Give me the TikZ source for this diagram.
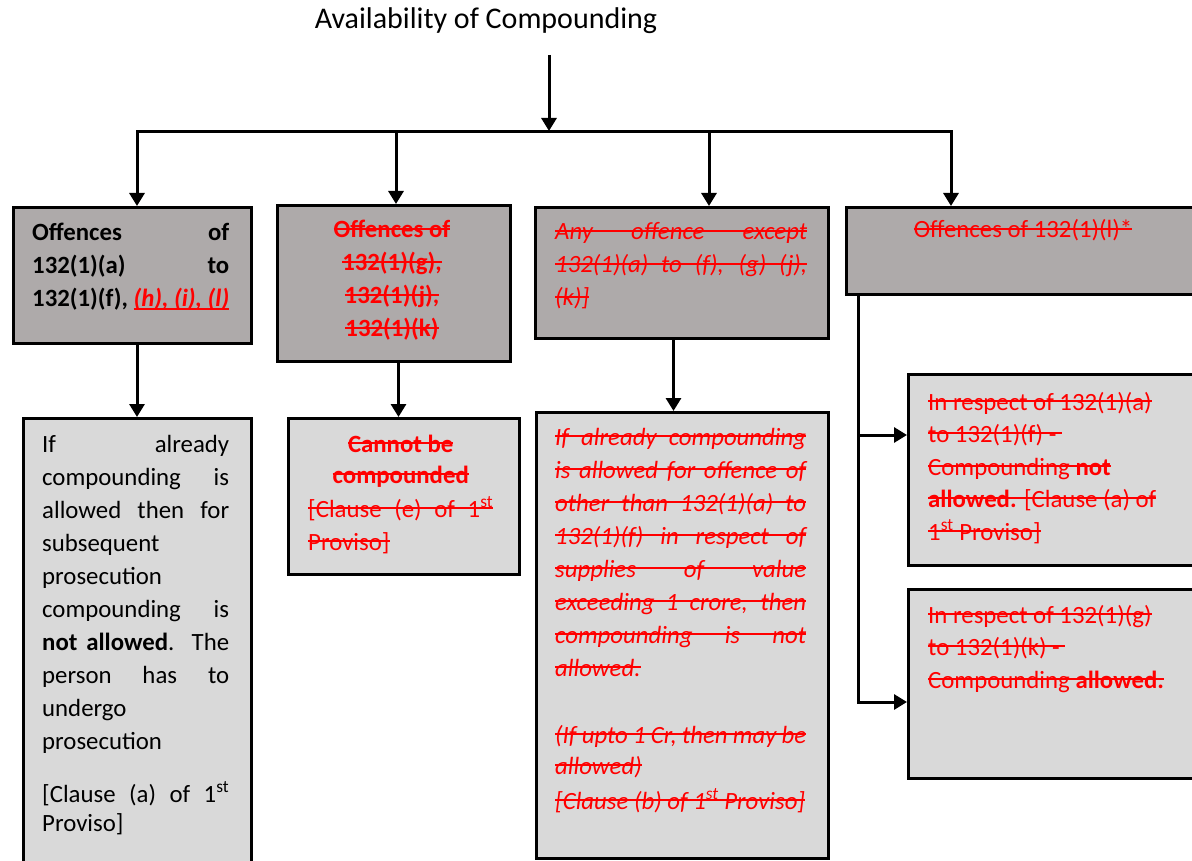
\documentclass[tikz,border=0pt]{standalone}
\usepackage{fontspec}
\setmainfont{Carlito}
\usetikzlibrary{arrows.meta}
\definecolor{darkbox}{HTML}{AEAAAA}
\definecolor{lightbox}{HTML}{D9D9D9}
\definecolor{strk}{HTML}{FF0000}
\newcommand\Rs{\spaceskip=0pt\xspaceskip=0pt\relax}
\newcommand\Sline[1]{\leavevmode\setbox0\hbox{\Rs#1}\rlap{\rule[0.34em]{\wd0}{1.6pt}}\box0}
\newcommand\Sjust[1]{\leavevmode\rlap{\rule[0.34em]{\linewidth}{1.6pt}}\makebox[\linewidth][s]{\Rs#1}}
\newcommand\Jl[1]{\leavevmode\makebox[\linewidth][s]{\Rs#1}}
\newcommand\Uline[1]{\leavevmode\setbox0\hbox{\Rs#1}\rlap{\rule[-3pt]{\wd0}{1.5pt}}\box0}
\begin{document}
\begin{tikzpicture}[x=1pt,y=-1pt,
  box/.style={draw=black, line width=3pt, inner sep=0pt, anchor=north west},
  dark/.style={box, fill=darkbox},
  light/.style={box, fill=lightbox},
  conn/.style={line width=3pt, -{Triangle[width=15pt,length=13pt]}},
  plain/.style={line width=3pt},
  txt/.style={anchor=base west, inner sep=0pt, align=left, font=\fontsize{24.8}{33}\selectfont},
]
\useasboundingbox (0,0) rectangle (1192,861);

% boxes
\node[dark, minimum width=238pt, minimum height=136pt] (b1) at (12,206) {};
\node[dark, minimum width=233pt, minimum height=156pt] (b2) at (276,204) {};
\node[dark, minimum width=293pt, minimum height=131pt] (b3) at (534,206) {};
\node[dark, minimum width=360pt, minimum height=87pt] (b4) at (845,206) {};
\node[light, minimum width=228pt, minimum height=470pt] (b5) at (22,417) {};
\node[light, minimum width=231pt, minimum height=156pt] (b6) at (287,417) {};
\node[light, minimum width=292pt, minimum height=446pt] (b7) at (535,411) {};
\node[light, minimum width=300pt, minimum height=191pt] (b8) at (907,373) {};
\node[light, minimum width=300pt, minimum height=189pt] (b9) at (907,588) {};

% title and top connectors
\node[font=\fontsize{30}{36}\selectfont, anchor=base, inner sep=0pt] (t) at (486,29) {Availability of Compounding};
\coordinate (a0) at (549,55);
\coordinate (hub) at (549,131);
\coordinate (hl) at (137,132);
\coordinate (hr) at (951,132);
\coordinate (d2) at (396,132);
\coordinate (d3) at (709,132);
\draw[conn] (a0) -- (hub);
\draw[plain, line cap=rect] (hl) -- (hr);
\draw[conn] (hl) -- (hl |- b1.north);
\draw[conn] (d2) -- (d2 |- b2.north);
\draw[conn] (d3) -- (d3 |- b3.north);
\draw[conn] (hr) -- (hr |- b4.north);

% lower connectors
\draw[conn] (hl |- b1.south) -- (hl |- b5.north);
\draw[conn] ([xshift=4.5pt]b2.south) -- ([xshift=-5.5pt]b6.north);
\draw[conn] ([xshift=-8.5pt]b3.south) -- ([xshift=-9pt]b7.north);
\coordinate (v1) at (858,435);
\coordinate (v2) at (858,702);
\draw[conn, line join=miter] (v1 |- b4.south) -- (v2) -- (v2 -| b9.west);
\draw[conn] (v1) -- (v1 -| b8.west);

% texts
\node[txt, text width=197pt] (t1) at (32,241) {\Rs\bfseries\Jl{Offences of}\\ \Jl{132(1)(a) to}\\ 132(1)(f), {\color{strk}\itshape\Uline{(h), (i), (l)}}};

\node[txt, text width=233pt, anchor=base, align=center] (t2) at (392,238) {\Rs\bfseries\color{strk}\Sline{Offences of}\\ \Sline{132(1)(g),}\\ \Sline{132(1)(j),}\\ \Sline{132(1)(k)}};

\node[txt, text width=252pt] (t3) at (555,240) {\Rs\itshape\color{strk}\Sjust{Any offence except}\\ \Sjust{132(1)(a) to (f), (g) (j),}\\ \Sline{(k)]}};

\node[txt, anchor=base] (t4) at (1023,238) {\Rs\color{strk}\Sline{Offences of 132(1)(l)*}};

\node[txt, text width=187pt] (t5) at (42,452) {\Rs\Jl{If already}\\ \Jl{compounding is}\\ \Jl{allowed then for}\\ subsequent\\ prosecution\\ \Jl{compounding is}\\ \Jl{\textbf{not allowed}. The}\\ \Jl{person has to}\\ undergo\\ prosecution\\[20pt] \Jl{[Clause (a) of 1\textsuperscript{st}}\\[-4pt] Proviso]};

\node[txt, text width=185pt] (t6) at (308,452) {\Rs\color{strk}\makebox[\linewidth]{\bfseries\Sline{Cannot be}}\\[-2pt] \makebox[\linewidth]{\bfseries\Sline{compounded}}\\[1pt] \Sjust{[Clause (e) of 1\textsuperscript{st}}\\ \Sline{Proviso]}};

\node[txt, text width=251pt] (t7) at (555,445) {\Rs\itshape\color{strk}\Sjust{If already compounding}\\ \Sjust{is allowed for offence of}\\ \Sjust{other than 132(1)(a) to}\\ \Sjust{132(1)(f) in respect of}\\ \Sjust{supplies of value}\\ \Sjust{exceeding 1 crore, then}\\ \Sjust{compounding is not}\\ \Sline{allowed.}\\[34pt] \Sjust{(If upto 1 Cr, then may be}\\[-2pt] \Sline{allowed)}\\[2pt] \Sline{[Clause (b) of 1\textsuperscript{st} Proviso]}};

\node[txt, text width=260pt] (t8) at (928,410) {\Rs\color{strk}\Sline{In respect of 132(1)(a)}\\[-0.5pt] \Sline{to 132(1)(f) - }\\[-0.5pt] \Sline{Compounding \textbf{not}}\\[-0.5pt] \Sline{\textbf{allowed.} [Clause (a) of}\\[-0.5pt] \Sline{1\textsuperscript{st} Proviso]}};

\node[txt, text width=260pt] (t9) at (928,623) {\Rs\color{strk}\Sline{In respect of 132(1)(g)}\\[-0.5pt] \Sline{to 132(1)(k) - }\\[-0.5pt] \Sline{Compounding \textbf{allowed.}}};
\end{tikzpicture}
\end{document}
